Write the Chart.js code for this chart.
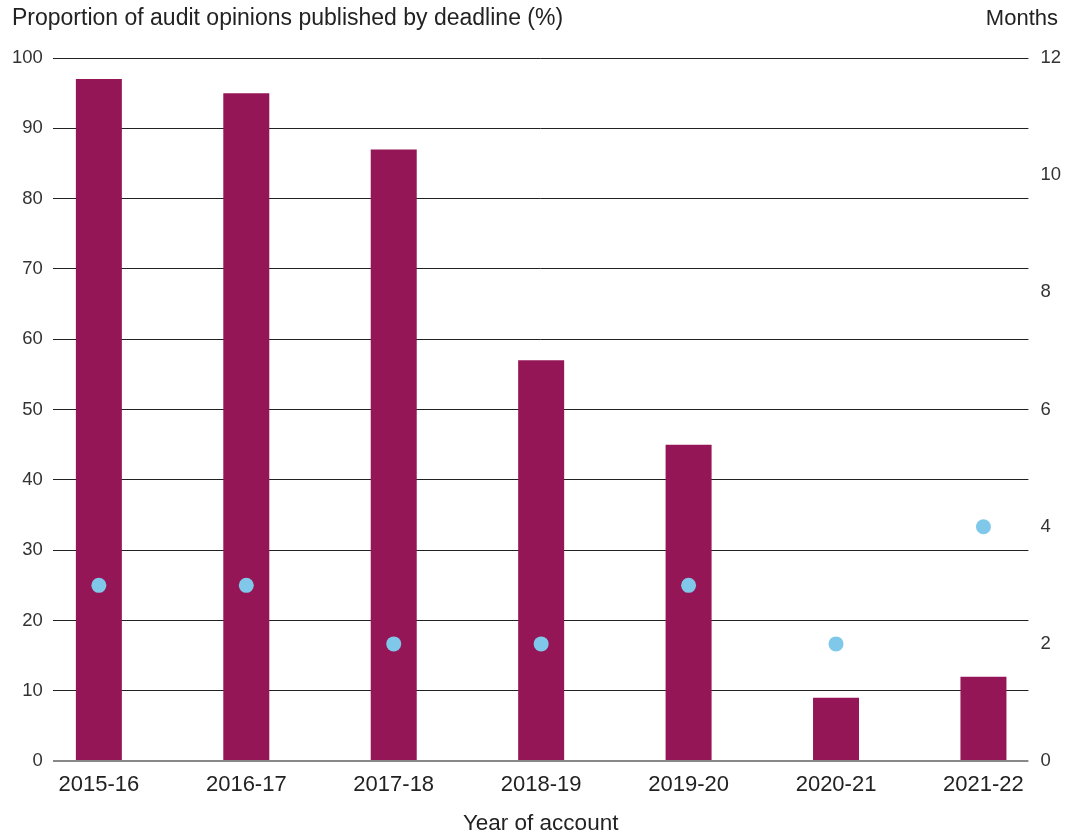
<!DOCTYPE html>
<html>
<head>
<meta charset="utf-8">
<script src="https://cdn.jsdelivr.net/npm/chart.js@4"></script>
<style>
  html, body { margin: 0; padding: 0; background: #fff; }
  #wrap { width: 1077px; height: 835px; }
</style>
</head>
<body>
<div id="wrap"><canvas id="chart" width="1077" height="835"></canvas></div>
<script>
const years = ['2015-16', '2016-17', '2017-18', '2018-19', '2019-20', '2020-21', '2021-22'];
const publishedPct = [97, 95, 87, 57, 45, 9, 12];
const months = [3, 3, 2, 2, 3, 2, 4];
const pctTicks = [0, 10, 20, 30, 40, 50, 60, 70, 80, 90, 100];
const monthTicks = [0, 2, 4, 6, 8, 10, 12];

const FONT = '"Liberation Sans", Arial, sans-serif';
const TEXT = '#222';

// top titles for both y axes
const topTitles = {
    id: 'topTitles',
    afterDraw(chart) {
        const ctx = chart.ctx;
        ctx.save();
        ctx.fillStyle = TEXT;
        ctx.textBaseline = 'middle';
        ctx.textAlign = 'left';
        ctx.font = '23px ' + FONT;
        ctx.fillText('Proportion of audit opinions published by deadline (%)', 12, 19);
        ctx.textAlign = 'right';
        ctx.font = '22px ' + FONT;
        ctx.fillText('Months', 1058, 19);
        ctx.restore();
    }
};

new Chart(document.getElementById('chart'), {
    type: 'bar',
    data: {
        datasets: [{
            type: 'line',
            label: 'Months',
            data: years.map((y, i) => ({ x: i, y: months[i] })),
            yAxisID: 'y2',
            showLine: false,
            pointRadius: 7.5,
            pointHoverRadius: 7.5,
            pointBackgroundColor: '#7fc8ea',
            pointBorderWidth: 0,
            order: 0
        }, {
            type: 'bar',
            label: 'Proportion',
            data: years.map((y, i) => ({ x: i, y: publishedPct[i] })),
            yAxisID: 'y',
            backgroundColor: '#951656',
            barPercentage: 0.312,
            categoryPercentage: 1,
            order: 1
        }]
    },
    options: {
        responsive: false,
        animation: false,
        layout: { padding: { top: 58, left: 2, right: 4, bottom: 0 } },
        plugins: {
            legend: { display: false },
            tooltip: { enabled: false }
        },
        scales: {
            x: {
                type: 'linear',
                offset: false,
                min: -0.312,
                max: 6.305,
                grid: { display: false, drawTicks: false },
                border: { display: false },
                ticks: {
                    stepSize: 1,
                    includeBounds: false,
                    autoSkip: false,
                    maxRotation: 0,
                    padding: 11,
                    color: TEXT,
                    font: { family: FONT, size: 22 },
                    callback: v => years[Math.round(v)]
                },
                title: {
                    display: true,
                    text: 'Year of account',
                    color: TEXT,
                    font: { family: FONT, size: 22.5, lineHeight: 1 },
                    padding: { top: 3, bottom: 0 }
                }
            },
            y: {
                position: 'left',
                min: 0,
                max: 100,
                afterBuildTicks: s => { s.ticks = pctTicks.map(v => ({ value: v })); },
                grid: {
                    color: ctx => ctx.tick && ctx.tick.value === 0 ? '#888' : '#222',
                    lineWidth: ctx => ctx.tick && ctx.tick.value === 0 ? 2 : 1,
                    drawTicks: false
                },
                border: { display: false },
                ticks: {
                    padding: 10,
                    color: '#333',
                    font: { family: FONT, size: 18.5 }
                }
            },
            y2: {
                position: 'right',
                min: 0,
                max: 12,
                afterBuildTicks: s => { s.ticks = monthTicks.map(v => ({ value: v })); },
                grid: { display: false, drawTicks: false },
                border: { display: false },
                ticks: {
                    padding: 12,
                    color: '#333',
                    font: { family: FONT, size: 18.5 }
                }
            }
        }
    },
    plugins: [topTitles]
});
</script>
</body>
</html>
